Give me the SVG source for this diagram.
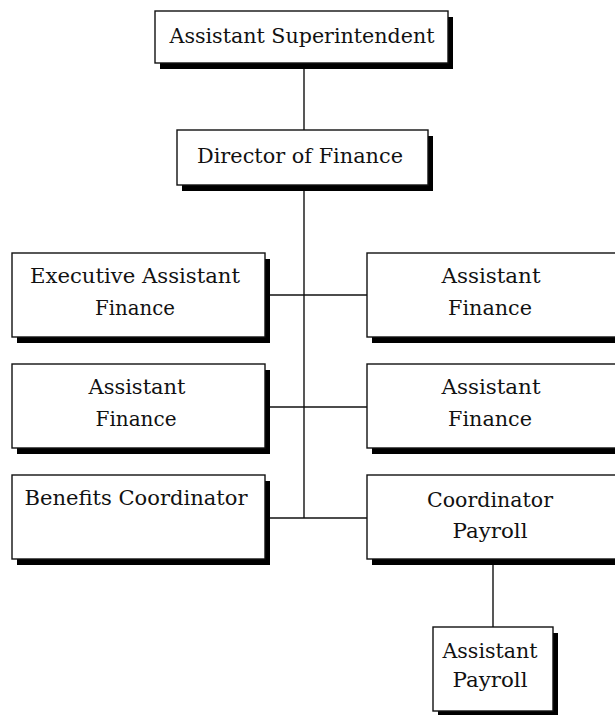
<svg xmlns="http://www.w3.org/2000/svg" width="615" height="715" viewBox="0 0 615 715">
<style>
.box{fill:#fff;stroke:#111;stroke-width:1.4}
.sh{fill:#000}
.t{font-family:"DejaVu Serif","Liberation Serif",serif;font-size:20px;fill:#111;text-anchor:middle}
.c{stroke:#111;stroke-width:1.4;fill:none}
</style>
<rect width="615" height="715" fill="#fff"/>
<g id="connectors">
<line class="c" x1="304" y1="63" x2="304" y2="130"/>
<line class="c" x1="304" y1="185" x2="304" y2="518"/>
<line class="c" x1="265" y1="295" x2="367" y2="295"/>
<line class="c" x1="265" y1="407" x2="367" y2="407"/>
<line class="c" x1="265" y1="518" x2="367" y2="518"/>
<line class="c" x1="493" y1="559" x2="493" y2="627"/>
</g>
<g id="n-super">
<rect class="sh" x="160" y="17" width="293" height="52"/>
<rect class="box" x="155" y="11" width="293" height="52"/>
<text class="t" x="302" y="43" textLength="265" lengthAdjust="spacingAndGlyphs">Assistant Superintendent</text>
</g>
<g id="n-director">
<rect class="sh" x="182" y="136" width="251" height="55"/>
<rect class="box" x="177" y="130" width="251" height="55"/>
<text class="t" x="300" y="163" textLength="206" lengthAdjust="spacingAndGlyphs">Director of Finance</text>
</g>
<g id="n-exec">
<rect class="sh" x="17" y="259" width="253" height="84"/>
<rect class="box" x="12" y="253" width="253" height="84"/>
<text class="t" x="135" y="283" textLength="210" lengthAdjust="spacingAndGlyphs">Executive Assistant</text>
<text class="t" x="135" y="315" textLength="80" lengthAdjust="spacingAndGlyphs">Finance</text>
</g>
<g id="n-af1">
<rect class="sh" x="372" y="259" width="253" height="84"/>
<rect class="box" x="367" y="253" width="253" height="84"/>
<text class="t" x="491" y="283" textLength="99" lengthAdjust="spacingAndGlyphs">Assistant</text>
<text class="t" x="490" y="315" textLength="84" lengthAdjust="spacingAndGlyphs">Finance</text>
</g>
<g id="n-af2">
<rect class="sh" x="17" y="370" width="253" height="84"/>
<rect class="box" x="12" y="364" width="253" height="84"/>
<text class="t" x="137" y="394" textLength="97" lengthAdjust="spacingAndGlyphs">Assistant</text>
<text class="t" x="136" y="426" textLength="81" lengthAdjust="spacingAndGlyphs">Finance</text>
</g>
<g id="n-af3">
<rect class="sh" x="372" y="370" width="253" height="84"/>
<rect class="box" x="367" y="364" width="253" height="84"/>
<text class="t" x="491" y="394" textLength="99" lengthAdjust="spacingAndGlyphs">Assistant</text>
<text class="t" x="490" y="426" textLength="84" lengthAdjust="spacingAndGlyphs">Finance</text>
</g>
<g id="n-benefits">
<rect class="sh" x="17" y="481" width="253" height="84"/>
<rect class="box" x="12" y="475" width="253" height="84"/>
<text class="t" x="136" y="505" textLength="223" lengthAdjust="spacingAndGlyphs">Benefits Coordinator</text>
</g>
<g id="n-coordpay">
<rect class="sh" x="372" y="481" width="253" height="84"/>
<rect class="box" x="367" y="475" width="253" height="84"/>
<text class="t" x="490" y="507" textLength="126" lengthAdjust="spacingAndGlyphs">Coordinator</text>
<text class="t" x="490" y="538" textLength="75" lengthAdjust="spacingAndGlyphs">Payroll</text>
</g>
<g id="n-asspay">
<rect class="sh" x="438" y="633" width="120" height="84"/>
<rect class="box" x="433" y="627" width="120" height="84"/>
<text class="t" x="490" y="658" textLength="95" lengthAdjust="spacingAndGlyphs">Assistant</text>
<text class="t" x="490" y="687" textLength="75" lengthAdjust="spacingAndGlyphs">Payroll</text>
</g>
</svg>
